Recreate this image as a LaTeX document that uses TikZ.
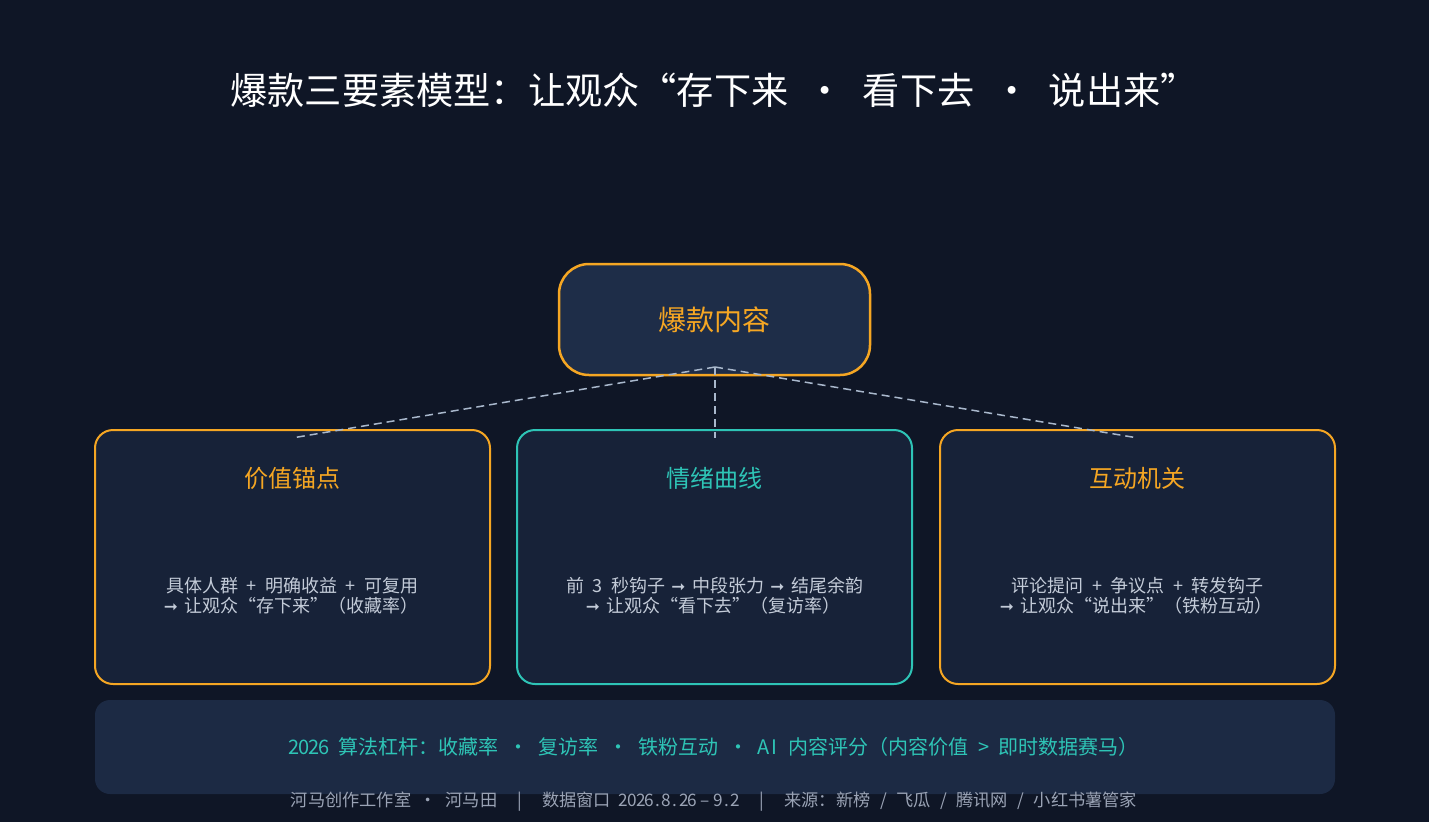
\documentclass[tikz,border=0pt]{standalone}
\usepackage{fontspec}
\usepackage{graphicx}
\setmainfont{Noto Sans CJK SC}
\newfontfamily\sym{DejaVu Sans}
\definecolor{bg}{HTML}{0F1626}
\definecolor{topfill}{HTML}{1E2D48}
\definecolor{boxfill}{HTML}{172238}
\definecolor{barfill}{HTML}{1C2A44}
\definecolor{orange}{HTML}{F5A623}
\definecolor{teal}{HTML}{2EC4B6}
\definecolor{bodytxt}{HTML}{C3CBD8}
\definecolor{foot}{HTML}{9AA3B5}
\definecolor{dash}{HTML}{A9B8CC}
\makeatletter
\def\mono@end{}
\newcommand\mono[1]{\mono@loop#1\mono@end}
\def\mono@loop#1{\ifx#1\mono@end\else\makebox[0.5em]{#1}\expandafter\mono@loop\fi}
\makeatother
\newcommand{\arr}{\makebox[0.5em]{\resizebox{0.78em}{!}{\sym ➞}}}
\newcommand{\dt}{\makebox[2em]{·}}
\newcommand{\vb}{\makebox[2.6em]{|}}
\newcommand{\slsep}{\makebox[1.5em]{/}}
\newcommand{\wide}{\spaceskip=0.5em\relax\xspaceskip=0.5em\relax}
\tikzset{
  every node/.style={inner sep=0pt, outer sep=0pt},
  card/.style={draw, line width=2pt, fill=boxfill, rounded corners=18pt, minimum width=395pt, minimum height=254pt},
  cardtitle/.style={font=\fontsize{24}{28}\selectfont},
  cardbody/.style={text=bodytxt, font=\fontsize{18}{20}\selectfont\wide, align=center},
  conn/.style={draw=dash, line width=1.5pt, dash pattern=on 8pt off 5pt}
}
\begin{document}
\begin{tikzpicture}[x=1pt,y=-1pt]
\useasboundingbox[fill=bg] (0,0) rectangle (1429,822);
\node[text=white, font=\fontsize{37.2}{40}\selectfont\wide] (title) at (714,90) {爆款三要素模型：让观众“存下来\dt 看下去\dt 说出来”};
\node[draw=orange, line width=2.5pt, fill=topfill, rounded corners=30pt, minimum width=311pt, minimum height=111pt, text=orange, font=\fontsize{28}{32}\selectfont] (top) at (714.5,319.5) {爆款内容};
\node[card, draw=orange] (b1) at (292.5,557) {};
\node[card, draw=teal] (b2) at (714.5,557) {};
\node[card, draw=orange] (b3) at (1137.5,557) {};
\node[cardtitle, text=orange] (t1) at (292.5,478) {价值锚点};
\node[cardtitle, text=teal] (t2) at (714.5,478) {情绪曲线};
\node[cardtitle, text=orange] (t3) at (1137.5,478) {互动机关};
\node[cardbody] (d1) at (292.5,596) {具体人群 \mono{+} 明确收益 \mono{+} 可复用\\\arr{} 让观众“存下来”（收藏率）};
\node[cardbody] (d2) at (714.5,596) {前 \mono{3} 秒钩子 \arr{} 中段张力 \arr{} 结尾余韵\\\arr{} 让观众“看下去”（复访率）};
\node[cardbody] (d3) at (1137.5,596) {评论提问 \mono{+} 争议点 \mono{+} 转发钩子\\\arr{} 让观众“说出来”（铁粉互动）};
\coordinate (apex) at (715,367);
\coordinate (e1) at (292,438);
\coordinate (e2) at (715,438);
\coordinate (e3) at (1138,438);
\draw[conn] (apex) -- (e1);
\draw[conn] (apex) -- (e2);
\draw[conn] (apex) -- (e3);
\node[fill=barfill, rounded corners=15pt, minimum width=1240pt, minimum height=94pt] (bar) at (715,747) {};
\node[text=teal, font=\fontsize{20}{22}\selectfont\wide] (bartxt) at (714,747) {\mono{2026} 算法杠杆：收藏率\dt 复访率\dt 铁粉互动\dt \mono{AI} 内容评分（内容价值 \mono{>} 即时数据赛马）};
\node[text=foot, font=\fontsize{17.2}{20}\selectfont\wide] (footer) at (714,802) {河马创作工作室\dt 河马田\vb 数据窗口 \mono{2026.8.26}\makebox[1em]{–}\mono{9.2}\vb 来源：新榜\slsep 飞瓜\slsep 腾讯网\slsep 小红书薯管家};
\end{tikzpicture}
\end{document}
